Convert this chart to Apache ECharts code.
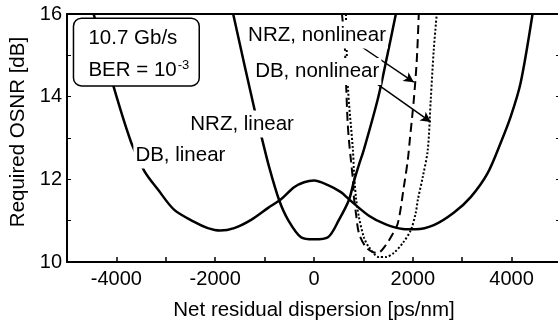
<!DOCTYPE html>
<html>
<head>
<meta charset="utf-8">
<script src="https://cdn.jsdelivr.net/npm/echarts@6/dist/echarts.min.js"></script>
<style>
html, body { margin: 0; padding: 0; background: #fff; }
#grafica { width: 558px; height: 323px; }
</style>
</head>
<body>
<div id="grafica"></div>
<script>
// curvas (dispersion ps/nm, OSNR dB)
var dbLinX = [-4460, -4061, -3697, -3434, -3151, -2828, -2424, -2150, -1900, -1616, -1273, -929, -667, -404, -200, 0, 283, 545, 707, 1111, 1454, 1798, 2060, 2424, 2828, 3172, 3515, 3778, 3980, 4182, 4424];
var dbLinY = [16, 14.26, 12.88, 12.2, 11.74, 11.26, 10.97, 10.82, 10.76, 10.82, 11.02, 11.31, 11.52, 11.81, 11.93, 11.97, 11.86, 11.69, 11.52, 11.12, 10.91, 10.8, 10.79, 10.89, 11.19, 11.57, 12.15, 12.88, 13.51, 14.33, 16];

var nrzLinX = [-1636, -1212, -1071, -909, -707, -525, -263, 0, 283, 505, 707, 808, 909, 1010, 1293, 1495, 1657];
var nrzLinY = [16, 13.73, 13.07, 12.3, 11.5, 11.02, 10.6, 10.55, 10.6, 11.02, 11.5, 11.95, 12.35, 12.72, 13.95, 15.06, 16];

var nrzNlX = [566, 620, 650, 680, 707, 747, 788, 808, 848, 909, 1050, 1192, 1293, 1454, 1555, 1697, 1818, 1899, 1939, 2020, 2081, 2121];
var nrzNlY = [16, 15.3, 14.3, 13.4, 12.95, 12.47, 11.98, 11.57, 11.19, 10.7, 10.36, 10.24, 10.22, 10.41, 10.6, 10.94, 11.81, 12.47, 12.95, 13.92, 14.89, 16];

var dbNlX = [646, 687, 788, 808, 848, 909, 1010, 1111, 1313, 1454, 1616, 1798, 1959, 2060, 2101, 2202, 2303, 2363, 2424, 2485];
var dbNlY = [16, 14.23, 12.71, 12.23, 11.57, 11.09, 10.6, 10.36, 10.12, 10.12, 10.22, 10.46, 10.77, 11.19, 11.5, 12.06, 12.71, 13.92, 15.13, 16];

var etiquetasX = [-4000, -2000, 0, 2000, 4000];
var etiquetasY = [10, 12, 14, 16];

// flechas de las etiquetas "nonlinear" (coordenadas de datos)
var flechas = [
    [[909, 15.25], [2020, 14.35]],
    [[1252, 14.33], [2363, 13.39]]
];

var fuente = '"Liberation Sans", Arial, sans-serif';

function pares(xs, ys) {
    return xs.map(function (x, i) { return [x, ys[i]]; });
}

function serie(nombre, xs, ys, tipo, ancho) {
    return {
        name: nombre,
        type: 'line',
        data: pares(xs, ys),
        showSymbol: false,
        smooth: 0.3,
        clip: true,
        lineStyle: { color: '#000', width: ancho, type: tipo }
    };
}

var grafica = echarts.init(document.getElementById('grafica'), null, { renderer: 'canvas' });

var ejeNegro = { onZero: false, lineStyle: { color: '#000', width: 2 } };

var series = [
    serie('DB, linear', dbLinX, dbLinY, 'solid', 2.5),
    serie('NRZ, linear', nrzLinX, nrzLinY, 'solid', 2.5),
    serie('NRZ, nonlinear', nrzNlX, nrzNlY, [9, 5], 2),
    serie('DB, nonlinear', dbNlX, dbNlY, [2, 2], 2)
];
series[0].markLine = {
    silent: true,
    symbol: ['none', 'arrow'],
    symbolSize: [8, 10],
    label: { show: false },
    lineStyle: { color: '#000', width: 1.5, type: 'solid' },
    data: flechas.map(function (f) {
        return [{ coord: f[0] }, { coord: f[1] }];
    })
};

grafica.setOption({
    animation: false,
    backgroundColor: '#fff',
    textStyle: { fontFamily: fuente },
    grid: { left: 67, right: -3, top: 14, bottom: 61, outerBoundsMode: 'none', containLabel: false },
    xAxis: [{
        type: 'value', min: -5000, max: 5000, interval: 1000,
        position: 'bottom',
        axisLine: ejeNegro,
        axisTick: { inside: true, length: 5, lineStyle: { color: '#000', width: 1.5 } },
        axisLabel: {
            color: '#000', fontSize: 20, margin: 7, fontFamily: fuente,
            formatter: function (v) { return etiquetasX.indexOf(v) >= 0 ? String(v) : ''; }
        },
        splitLine: { show: false },
        name: 'Net residual dispersion [ps/nm]',
        nameLocation: 'middle',
        nameGap: 38,
        nameTextStyle: { color: '#000', fontSize: 20.5, fontFamily: fuente }
    }, {
        type: 'value', min: -5000, max: 5000, interval: 1000,
        position: 'top',
        axisLine: ejeNegro,
        axisTick: { show: false },
        axisLabel: { show: false },
        splitLine: { show: false }
    }],
    yAxis: [{
        type: 'value', min: 10, max: 16, interval: 1,
        position: 'left',
        axisLine: ejeNegro,
        axisTick: { inside: true, length: 4, lineStyle: { color: '#000', width: 1 } },
        axisLabel: {
            color: '#000', fontSize: 20, margin: 5, fontFamily: fuente,
            formatter: function (v) { return etiquetasY.indexOf(v) >= 0 ? String(v) : ''; }
        },
        splitLine: { show: false },
        name: 'Required OSNR [dB]',
        nameLocation: 'middle',
        nameGap: 31,
        nameTextStyle: { color: '#000', fontSize: 20.5, fontFamily: fuente, padding: [0, 0, 0, 12] }
    }, {
        type: 'value', min: 10, max: 16, interval: 1,
        position: 'right',
        axisLine: ejeNegro,
        axisTick: { inside: true, length: 5, lineStyle: { color: '#000', width: 1 } },
        axisLabel: { show: false },
        splitLine: { show: false }
    }],
    series: series
});

// anotaciones: posiciones en coordenadas de datos
var notas = [
    { texto: 'NRZ, nonlinear', x: -1374, y: 15.49 },
    { texto: 'DB, nonlinear', x: -1232, y: 14.61 },
    { texto: 'NRZ, linear', x: -2545, y: 13.34 },
    { texto: 'DB, linear', x: -3656, y: 12.59 }
];

function px(x, y) {
    return grafica.convertToPixel({ xAxisIndex: 0, yAxisIndex: 0 }, [x, y]);
}

var fuenteNota = '20.5px ' + fuente;
var medidor = document.createElement('canvas').getContext('2d');
medidor.font = fuenteNota;

var esq1 = px(-4869, 15.9), esq2 = px(-2323, 14.26);
var graficos = [{
    type: 'rect', z: 100,
    shape: { x: esq1[0], y: esq1[1], width: esq2[0] - esq1[0], height: esq2[1] - esq1[1], r: 8 },
    style: { fill: '#fff', stroke: '#000', lineWidth: 1.5 }
}];
var p1 = px(-4566, 15.42), p2 = px(-4566, 14.645);
var anchoBer = medidor.measureText('BER = 10').width;
graficos.push({ type: 'text', z: 101, x: p1[0], y: p1[1],
    style: { text: '10.7 Gb/s', font: fuenteNota, fill: '#000', verticalAlign: 'middle' } });
graficos.push({ type: 'text', z: 101, x: p2[0], y: p2[1],
    style: { text: 'BER = 10', font: fuenteNota, fill: '#000', verticalAlign: 'middle' } });
graficos.push({ type: 'text', z: 101, x: p2[0] + anchoBer + 1, y: p2[1] - 5,
    style: { text: '-3', font: '13px ' + fuente, fill: '#000', verticalAlign: 'middle' } });

notas.forEach(function (n) {
    var p = px(n.x, n.y);
    graficos.push({
        type: 'text', z: 101, x: p[0], y: p[1],
        style: {
            text: n.texto, font: fuenteNota, fill: '#000',
            verticalAlign: 'middle', backgroundColor: '#fff', padding: [3, 2, 3, 2]
        }
    });
});

grafica.setOption({ graphic: graficos });
</script>
</body>
</html>
